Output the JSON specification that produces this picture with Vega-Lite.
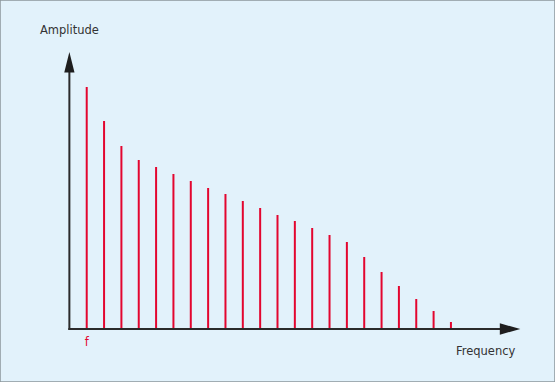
{
  "$schema": "https://vega.github.io/schema/vega-lite/v6.json",
  "width": 555,
  "height": 382,
  "autosize": {"type": "none"},
  "padding": 0,
  "background": "#e2f2fb",
  "config": {"view": {"stroke": "#8c969c", "strokeWidth": 1.5}, "font": "DejaVu Sans"},
  "datasets": {
    "spectrum": [
      {"n": 1, "amp": 242}, {"n": 2, "amp": 208}, {"n": 3, "amp": 183}, {"n": 4, "amp": 169},
      {"n": 5, "amp": 162}, {"n": 6, "amp": 155}, {"n": 7, "amp": 148}, {"n": 8, "amp": 141},
      {"n": 9, "amp": 135}, {"n": 10, "amp": 128}, {"n": 11, "amp": 121}, {"n": 12, "amp": 114},
      {"n": 13, "amp": 108}, {"n": 14, "amp": 101}, {"n": 15, "amp": 94}, {"n": 16, "amp": 87},
      {"n": 17, "amp": 72}, {"n": 18, "amp": 57}, {"n": 19, "amp": 43}, {"n": 20, "amp": 30},
      {"n": 21, "amp": 18}, {"n": 22, "amp": 7}
    ],
    "axes": [
      {"x": 0, "x2": 0, "y": 0, "y2": 260},
      {"x": 0, "x2": 25, "y": 0, "y2": 0}
    ],
    "arrows": [
      {"x": 0, "y": 277, "dir": "up"},
      {"x": 26, "y": 0, "dir": "right"}
    ],
    "labels": [
      {"x": 0, "y": 277, "text": "Amplitude", "role": "ytitle"},
      {"x": 24, "y": 0, "text": "Frequency", "role": "xtitle"},
      {"x": 1, "y": 0, "text": "f", "role": "fundamental"}
    ]
  },
  "layer": [
    {
      "data": {"name": "spectrum"},
      "mark": {"type": "rule", "color": "#e3062f", "strokeWidth": 2},
      "encoding": {
        "x": {
          "field": "n", "type": "quantitative",
          "scale": {"domain": [-4, 28], "nice": false, "zero": false},
          "axis": null
        },
        "y": {
          "field": "amp", "type": "quantitative",
          "scale": {"domain": [-53, 329], "nice": false, "zero": false},
          "axis": null
        },
        "y2": {"datum": 0}
      }
    },
    {
      "data": {"name": "axes"},
      "mark": {"type": "rule", "color": "#2b2b2b", "strokeWidth": 2, "strokeCap": "square"},
      "encoding": {
        "x": {"field": "x", "type": "quantitative"},
        "x2": {"field": "x2"},
        "y": {"field": "y", "type": "quantitative"},
        "y2": {"field": "y2"}
      }
    },
    {
      "data": {"name": "arrows"},
      "transform": [{"filter": "datum.dir == 'up'"}],
      "mark": {"type": "point", "shape": "M0,0L0.5,2L-0.5,2Z", "size": 420, "filled": true, "color": "#1e1e1e", "opacity": 1},
      "encoding": {
        "x": {"field": "x", "type": "quantitative"},
        "y": {"field": "y", "type": "quantitative"}
      }
    },
    {
      "data": {"name": "arrows"},
      "transform": [{"filter": "datum.dir == 'right'"}],
      "mark": {"type": "point", "shape": "M0,0L-2,-0.55L-2,0.55Z", "size": 420, "filled": true, "color": "#1e1e1e", "opacity": 1},
      "encoding": {
        "x": {"field": "x", "type": "quantitative"},
        "y": {"field": "y", "type": "quantitative"}
      }
    },
    {
      "data": {"name": "labels"},
      "transform": [{"filter": "datum.role == 'ytitle'"}],
      "mark": {"type": "text", "fontSize": 11.5, "color": "#333333", "align": "center", "baseline": "middle", "dy": -21},
      "encoding": {
        "x": {"field": "x", "type": "quantitative"},
        "y": {"field": "y", "type": "quantitative"},
        "text": {"field": "text"}
      }
    },
    {
      "data": {"name": "labels"},
      "transform": [{"filter": "datum.role == 'xtitle'"}],
      "mark": {"type": "text", "fontSize": 11.5, "color": "#333333", "align": "center", "baseline": "middle", "dy": 23},
      "encoding": {
        "x": {"field": "x", "type": "quantitative"},
        "y": {"field": "y", "type": "quantitative"},
        "text": {"field": "text"}
      }
    },
    {
      "data": {"name": "labels"},
      "transform": [{"filter": "datum.role == 'fundamental'"}],
      "mark": {"type": "text", "fontSize": 11.5, "color": "#e3062f", "align": "center", "baseline": "middle", "dy": 14},
      "encoding": {
        "x": {"field": "x", "type": "quantitative"},
        "y": {"field": "y", "type": "quantitative"},
        "text": {"field": "text"}
      }
    }
  ]
}
